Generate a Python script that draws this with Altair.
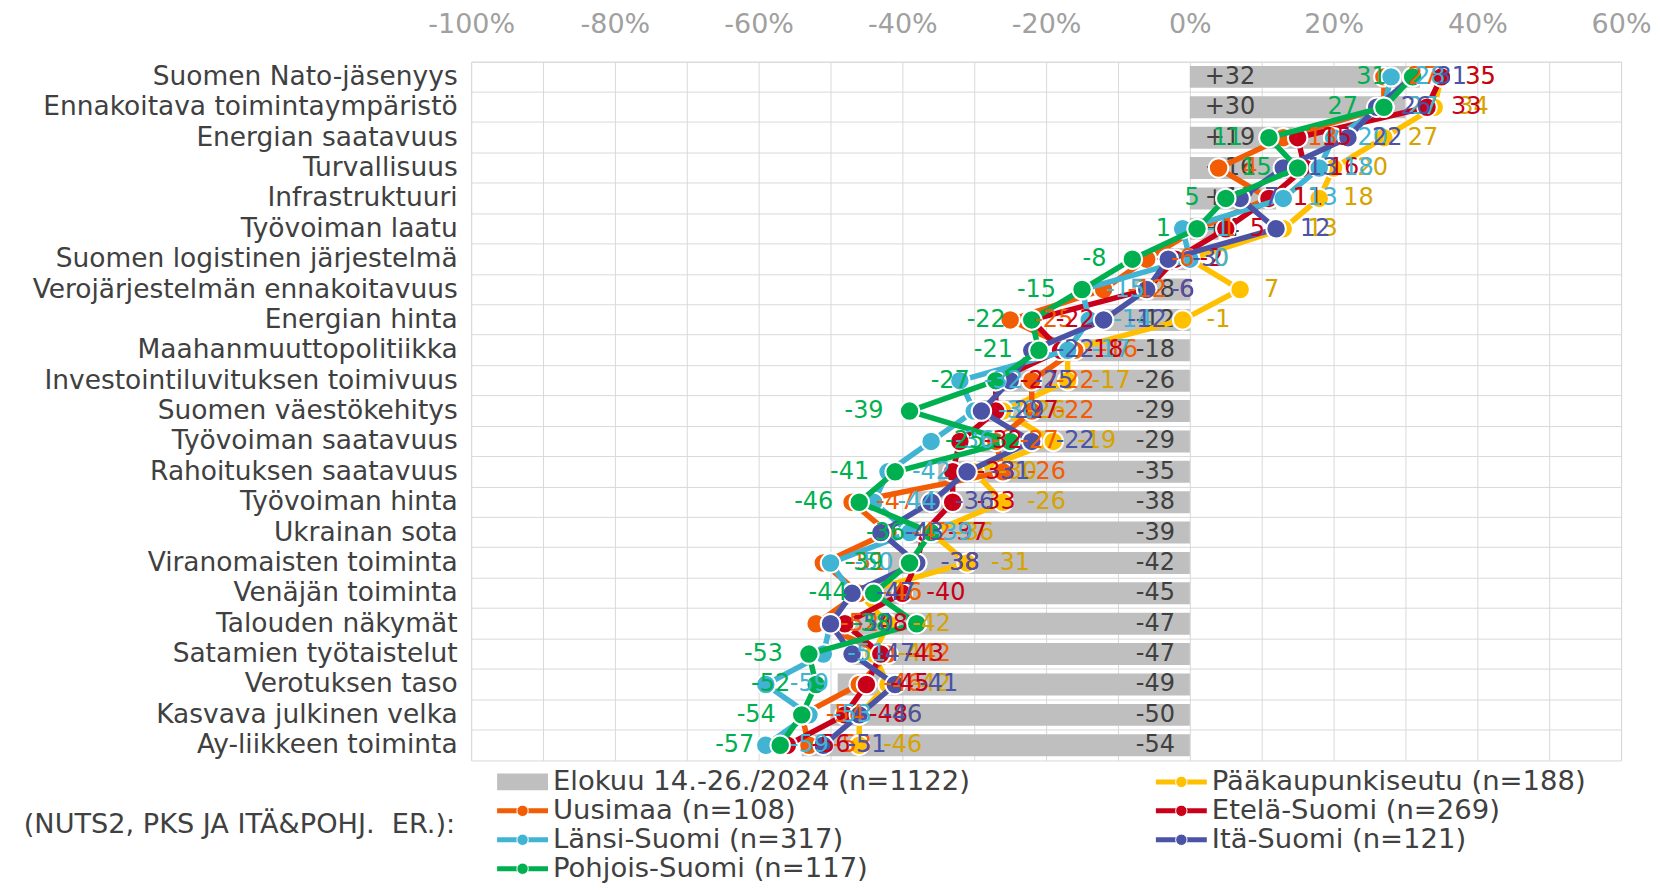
import altair as alt
import pandas as pd

categories = ["Suomen Nato-jäsenyys", "Ennakoitava toimintaympäristö", "Energian saatavuus",
              "Turvallisuus", "Infrastruktuuri", "Työvoiman laatu", "Suomen logistinen järjestelmä",
              "Verojärjestelmän ennakoitavuus", "Energian hinta", "Maahanmuuttopolitiikka",
              "Investointiluvituksen toimivuus", "Suomen väestökehitys", "Työvoiman saatavuus",
              "Rahoituksen saatavuus", "Työvoiman hinta", "Ukrainan sota", "Viranomaisten toiminta",
              "Venäjän toiminta", "Talouden näkymät", "Satamien työtaistelut", "Verotuksen taso",
              "Kasvava julkinen velka", "Ay-liikkeen toiminta"]

bar_name = "Elokuu 14.-26./2024 (n=1122)"
total = [32, 30, 19, 16, 12, 4, -3, -8, -12, -18, -26, -29, -29, -35, -38, -39, -42, -45, -47, -47, -49, -50, -54]

series_names = ["Pääkaupunkiseutu (n=188)", "Uusimaa (n=108)", "Etelä-Suomi (n=269)",
                "Länsi-Suomi (n=317)", "Itä-Suomi (n=121)", "Pohjois-Suomi (n=117)"]
pks = [35, 34, 27, 20, 18, 13, 0, 7, -1, -17, -17, -26, -19, -30, -26, -36, -31, -46, -42, -44, -42, -46, -46]
uus = [27, 27, 13, 4, 11, 1, -6, -12, -25, -16, -22, -22, -27, -26, -47, -42, -51, -46, -52, -42, -46, -54, -53]
ete = [35, 33, 15, 16, 11, 5, -2, -6, -22, -18, -27, -27, -32, -33, -33, -37, -38, -40, -48, -43, -45, -48, -56]
lan = [28, 27, 20, 18, 13, -1, 0, -15, -14, -17, -32, -30, -36, -42, -44, -39, -50, -47, -50, -51, -59, -53, -59]
ita = [31, 26, 22, 13, 7, 12, -3, -6, -12, -22, -25, -29, -22, -31, -36, -43, -38, -47, -50, -47, -41, -46, -51]
poh = [31, 27, 11, 15, 5, 1, -8, -15, -22, -21, -27, -39, -25, -41, -46, -36, -39, -44, -38, -53, -52, -54, -57]
series_values = [pks, uus, ete, lan, ita, poh]

x_grid = [-100, -90, -80, -70, -60, -50, -40, -30, -20, -10, 0, 10, 20, 30, 40, 50, 60]
legend_title = "(NUTS2, PKS JA ITÄ&POHJ.\u00a0 ER.):"

bar_color = "#BFBFBF"
line_colors = ["#FFC000", "#F25C05", "#C9001A", "#41B3D3", "#4A53A5", "#00B050"]
label_colors = ["#D6A300", "#F25C05", "#C9001A", "#41B3D3", "#4A53A5", "#00B050"]
dark = "#404040"
FONT = "DejaVu Sans"
LABEL_SIZE = 24

bars_df = pd.DataFrame({
    "cat": categories,
    "value": total,
    "label": [("+" + str(v)) if v > 0 else str(v) for v in total],
})

rows = []
for s, vals in zip(series_names, series_values):
    for i, (c, v) in enumerate(zip(categories, vals)):
        rows.append({"series": s, "cat": c, "idx": i, "value": v, "label": str(v)})
lines_df = pd.DataFrame(rows)

xscale = alt.Scale(domain=[-100, 60], nice=False, zero=False)
yscale = alt.Scale(domain=categories, paddingInner=0, paddingOuter=0)

x_enc = alt.X("value:Q", scale=xscale, title=None,
              axis=alt.Axis(orient="top", values=x_grid,
                            labelExpr="datum.value % 20 === 0 ? datum.value + '%' : ''",
                            grid=True, gridColor="#D9D9D9", gridWidth=1, labelFlush=False,
                            ticks=False, domain=False, labelPadding=37, labelBaseline="middle",
                            labelFontSize=27, labelColor="#A0A0A0", labelFont=FONT,
                            minExtent=52, maxExtent=52))
y_enc = alt.Y("cat:N", sort=categories, scale=yscale, title=None,
              axis=alt.Axis(grid=True, bandPosition=0, gridColor="#D9D9D9", gridWidth=1,
                            ticks=False, domain=False, labelPadding=14, labelFontSize=26.5,
                            labelColor=dark, labelFont=FONT, labelLimit=0,
                            minExtent=463, maxExtent=463))

base_bar = alt.Chart(bars_df)
bar = base_bar.mark_bar(height=22, color=bar_color).encode(x=x_enc, y=y_enc)

bar_lab_pos = base_bar.transform_filter("datum.value > 0").mark_text(
    align="left", baseline="middle", dx=15, fontSize=LABEL_SIZE, color=dark, font=FONT
).encode(x=alt.datum(0), y=alt.Y("cat:N", sort=categories), text="label:N")
bar_lab_neg = base_bar.transform_filter("datum.value <= 0").mark_text(
    align="right", baseline="middle", dx=-15, fontSize=LABEL_SIZE, color=dark, font=FONT
).encode(x=alt.datum(0), y=alt.Y("cat:N", sort=categories), text="label:N")

layers = [bar, bar_lab_pos, bar_lab_neg]
base_lines = alt.Chart(lines_df)
for s, col in zip(series_names, line_colors):
    sub = base_lines.transform_filter(alt.datum.series == s)
    layers.append(sub.mark_line(color=col, strokeWidth=5.5, strokeJoin="round", strokeCap="round").encode(
        x="value:Q", y=alt.Y("cat:N", sort=categories), order=alt.Order("idx:Q")))
    layers.append(sub.mark_point(filled=True, size=380, color=col, stroke="white", strokeWidth=2, opacity=1).encode(
        x="value:Q", y=alt.Y("cat:N", sort=categories)))

for k, (s, col) in enumerate(zip(series_names, label_colors)):
    sub = base_lines.transform_filter(alt.datum.series == s)
    if k == len(series_names) - 1:
        mk = sub.mark_text(align="right", baseline="middle", dx=-26, fontSize=LABEL_SIZE, color=col, font=FONT)
    else:
        mk = sub.mark_text(align="left", baseline="middle", dx=24, fontSize=LABEL_SIZE, color=col, font=FONT)
    layers.append(mk.encode(x="value:Q", y=alt.Y("cat:N", sort=categories), text="label:N"))

main = alt.layer(*layers).properties(
    width=1152, height=700, view=alt.ViewBackground(stroke="#D9D9D9", strokeWidth=1))

# legend panel (aligned with the main plot area)
legend_names = [bar_name] + series_names
legend_colors = [bar_color] + line_colors
leg_df = pd.DataFrame({"name": legend_names, "pos": list(range(len(legend_names)))})
leg_df["col"] = leg_df["pos"] % 2
leg_df["row"] = leg_df["pos"] // 2
leg_df["kind"] = ["bar"] + ["line"] * len(series_names)

lx = alt.X("col:Q", scale=alt.Scale(domain=[-0.0394, 1.7061], nice=False, zero=False), axis=None)
ly = alt.Y("row:O", scale=alt.Scale(domain=[0, 1, 2, 3]), axis=None)
lcolor = alt.Color("name:N", scale=alt.Scale(domain=legend_names, range=legend_colors), legend=None)

lbase = alt.Chart(leg_df)
leg_bar = lbase.transform_filter("datum.kind == 'bar'").mark_rule(
    strokeWidth=17, x2Offset=51, strokeCap="butt").encode(x=lx, x2="col:Q", y=ly, color=lcolor)
leg_line = lbase.transform_filter("datum.kind == 'line'").mark_rule(
    strokeWidth=5, x2Offset=51, strokeCap="butt").encode(x=lx, x2="col:Q", y=ly, color=lcolor)
leg_pt = lbase.transform_filter("datum.kind == 'line'").mark_point(
    filled=True, size=130, xOffset=25.5, opacity=1, stroke="white", strokeWidth=1).encode(
    x=lx, y=ly, color=lcolor)
leg_txt = lbase.mark_text(align="left", baseline="middle", dx=56, fontSize=27.5, color=dark, font=FONT).encode(
    x=lx, y=ly, text="name:N")
title_df = pd.DataFrame({"t": [legend_title], "col": [0], "row": [1]})
leg_title = alt.Chart(title_df).mark_text(
    align="right", baseline="middle", dx=-42, dy=14.5, fontSize=27.2, color=dark, font=FONT).encode(
    x=lx, y=ly, text="t:N")

legend = alt.layer(leg_bar, leg_line, leg_pt, leg_txt, leg_title).properties(
    width=1152, height=116, view=alt.ViewBackground(stroke="transparent"))

chart = alt.vconcat(main, legend, spacing=5).properties(padding=0).configure(font=FONT)

chart.save("out.html", embed_options={"renderer": "svg", "actions": False})
